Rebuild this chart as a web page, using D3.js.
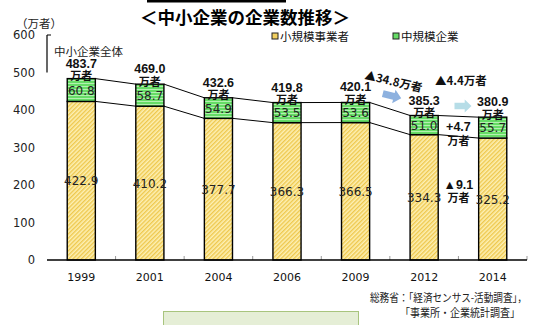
<!DOCTYPE html>
<html><head><meta charset="utf-8">
<script src="https://cdn.jsdelivr.net/npm/d3@7"></script>
<style>html,body{margin:0;padding:0;background:#fff;}svg{display:block;}</style>
</head><body>
<script>
const years = ["1999","2001","2004","2006","2009","2012","2014"];
const small = [422.9,410.2,377.7,366.3,366.5,334.3,325.2];
const medium = [60.8,58.7,54.9,53.5,53.6,51.0,55.7];
const totals = [483.7,469.0,432.6,419.8,420.1,385.3,380.9];
const totalLabels = ["483.7","469.0","432.6","419.8","420.1","385.3","380.9"];
const smallLabels = ["422.9","410.2","377.7","366.3","366.5","334.3","325.2"];
const mediumLabels = ["60.8","58.7","54.9","53.5","53.6","51.0","55.7"];
const yTicks = [0,100,200,300,400,500,600];
const seriesNames = ["小規模事業者","中規模企業"];
const title = "＜中小企業の企業数推移＞";
const unitLabel = "（万者）";
const wholeLabel = "中小企業全体";
const sourceLines = ["総務省：「経済センサス-活動調査」，","「事業所・企業統計調査」"];
const changeTotal = ["▲34.8万者","▲4.4万者"];
const changeMedium = "+4.7";
const changeSmall = "▲9.1";
const unit = "万者";

const W = 550, H = 325;
const CJK = "'Noto Sans CJK JP','Noto Sans',sans-serif";
const NUM = "'DejaVu Sans',sans-serif";
const BOLDNUM = "'Liberation Sans',Arial,sans-serif";

const svg = d3.select("body").append("svg").attr("width", W).attr("height", H);
const defs = svg.append("defs");
const pY = defs.append("pattern").attr("id","hatchY").attr("patternUnits","userSpaceOnUse")
  .attr("width",3).attr("height",3).attr("patternTransform","rotate(45)");
pY.append("rect").attr("width",3).attr("height",3).attr("fill","#fdf0b4");
pY.append("rect").attr("width",1.4).attr("height",3).attr("fill","#eec84e");
const pG = defs.append("pattern").attr("id","hatchG").attr("patternUnits","userSpaceOnUse")
  .attr("width",4).attr("height",3);
pG.append("rect").attr("width",4).attr("height",3).attr("fill","#66dc66");
pG.append("rect").attr("y",2).attr("width",4).attr("height",1).attr("fill","#b4f0b0");

const x = d3.scaleBand().domain(years).range([47,527]).paddingInner(0.59).paddingOuter(0.295);
const y = d3.scaleLinear().domain([0,600]).range([260,35]);
const bw = x.bandwidth();

// top decoration & title
svg.append("rect").attr("x",147).attr("y",0).attr("width",139).attr("height",2.5).attr("fill","#000");
svg.append("text").attr("x",245).attr("y",24).attr("text-anchor","middle")
  .attr("font-family",CJK).attr("font-weight","bold").attr("font-size",17.5).attr("fill","#000").text(title);

// unit label
svg.append("text").attr("x",16).attr("y",28).attr("font-family",CJK).attr("font-size",11.5).attr("fill","#222").text(unitLabel);

// legend
const legend = [{x:272, c:"#f2d060"},{x:393, c:"#66dc66"}];
legend.forEach((l,i)=>{
  svg.append("rect").attr("x",l.x).attr("y",33).attr("width",6).attr("height",6)
    .attr("fill",l.c).attr("stroke","#222").attr("stroke-width",1);
  svg.append("text").attr("x",l.x+8).attr("y",40.5).attr("font-family",CJK).attr("font-size",11.5)
    .attr("fill","#111").text(seriesNames[i]);
});

// axes
const yAxis = svg.append("g").attr("transform","translate(47,0)")
  .call(d3.axisLeft(y).tickValues(yTicks).tickSize(0).tickPadding(12));
yAxis.select(".domain").remove();
yAxis.selectAll("text").attr("font-family",NUM).attr("font-size",11.5).attr("fill","#222");

const xAxis = svg.append("g").attr("transform","translate(0,260)")
  .call(d3.axisBottom(x).tickSize(0).tickPadding(13));
xAxis.select(".domain").remove();
xAxis.selectAll("text").attr("font-family",NUM).attr("font-size",11).attr("fill","#111");

// y axis short line at top
svg.append("line").attr("x1",47).attr("x2",47).attr("y1",y(600)).attr("y2",y(500)).attr("stroke","#000").attr("stroke-width",1.2);
svg.append("line").attr("x1",47).attr("x2",51).attr("y1",y(600)).attr("y2",y(600)).attr("stroke","#000").attr("stroke-width",1);

// minor ticks on x axis
const step = x.step();
years.forEach((yr,i)=>{
  if(i===0) return;
  const tx = x(yr) - (step-bw)/2;
  svg.append("line").attr("x1",tx).attr("x2",tx).attr("y1",256).attr("y2",260).attr("stroke","#999").attr("stroke-width",1);
});
svg.append("line").attr("x1",527).attr("x2",527).attr("y1",256).attr("y2",260).attr("stroke","#999");

// connector lines
for(let i=0;i<years.length-1;i++){
  [small, totals].forEach(arr=>{
    svg.append("line").attr("x1",x(years[i])+bw).attr("y1",y(arr[i]))
      .attr("x2",x(years[i+1])).attr("y2",y(arr[i+1])).attr("stroke","#000").attr("stroke-width",1);
  });
}

// bars
const bars = svg.append("g");
bars.selectAll("rect.s").data(years).join("rect").attr("class","s")
  .attr("x",d=>x(d)).attr("width",bw)
  .attr("y",(d,i)=>y(small[i])).attr("height",(d,i)=>y(0)-y(small[i]))
  .attr("fill","url(#hatchY)").attr("stroke","#000").attr("stroke-width",1.4);
bars.selectAll("rect.m").data(years).join("rect").attr("class","m")
  .attr("x",d=>x(d)).attr("width",bw)
  .attr("y",(d,i)=>y(small[i]+medium[i])).attr("height",(d,i)=>y(small[i])-y(small[i]+medium[i]))
  .attr("fill","url(#hatchG)").attr("stroke","#000").attr("stroke-width",1.4);

// x axis line
svg.append("line").attr("x1",47).attr("x2",527).attr("y1",260).attr("y2",260).attr("stroke","#000").attr("stroke-width",1.4);

// segment labels
years.forEach((yr,i)=>{
  const cx = x(yr)+bw/2;
  svg.append("text").attr("x",cx).attr("y",(y(0)+y(small[i]))/2+4.5).attr("text-anchor","middle")
    .attr("font-family",NUM).attr("font-size",12).attr("fill","#222").text(smallLabels[i]);
  svg.append("text").attr("x",cx).attr("y",(y(small[i])+y(small[i]+medium[i]))/2+4.5).attr("text-anchor","middle")
    .attr("font-family",NUM).attr("font-size",12).attr("fill","#222").text(mediumLabels[i]);
  svg.append("text").attr("x",cx).attr("y",y(totals[i])-11).attr("text-anchor","middle")
    .attr("font-family",BOLDNUM).attr("font-weight","bold").attr("font-size",12.5).attr("fill","#111").text(totalLabels[i]);
  svg.append("text").attr("x",cx).attr("y",y(totals[i])+1.5).attr("text-anchor","middle")
    .attr("font-family",CJK).attr("font-weight","bold").attr("font-size",11).attr("fill","#111").text(unit);
});

// whole label
svg.append("text").attr("x",54).attr("y",56).attr("font-family",CJK).attr("font-size",11.5).attr("fill","#222").text(wholeLabel);

// arrows
function blockArrow(cx,cy,len,hgt,angle,color){
  const bodyH = hgt*0.5, headL = len*0.4;
  const pts = [[-len/2,-bodyH/2],[len/2-headL,-bodyH/2],[len/2-headL,-hgt/2],[len/2,0],
    [len/2-headL,hgt/2],[len/2-headL,bodyH/2],[-len/2,bodyH/2]];
  svg.append("polygon").attr("points",pts.map(p=>p.join(",")).join(" "))
    .attr("transform",`translate(${cx},${cy}) rotate(${angle})`).attr("fill",color);
}
blockArrow(392,96,19,14,14,"#8db1df");
blockArrow(463,106,17,13,0,"#b6dde7");

// change annotations
svg.append("text").attr("transform","translate(364,79) rotate(13)")
  .attr("font-family",CJK).attr("font-weight","bold").attr("font-size",11.5).attr("fill","#111").text(changeTotal[0]);
svg.append("text").attr("x",435).attr("y",85)
  .attr("font-family",CJK).attr("font-weight","bold").attr("font-size",11.5).attr("fill","#111").text(changeTotal[1]);
const gapX = (x(years[5])+bw + x(years[6]))/2;
svg.append("text").attr("x",gapX).attr("y",131).attr("text-anchor","middle")
  .attr("font-family",BOLDNUM).attr("font-weight","bold").attr("font-size",12.5).attr("fill","#111").text(changeMedium);
svg.append("text").attr("x",gapX).attr("y",145).attr("text-anchor","middle")
  .attr("font-family",CJK).attr("font-weight","bold").attr("font-size",11).attr("fill","#111").text(unit);
svg.append("text").attr("x",gapX).attr("y",189).attr("text-anchor","middle")
  .attr("font-family",BOLDNUM).attr("font-weight","bold").attr("font-size",12.5).attr("fill","#111").text(changeSmall);
svg.append("text").attr("x",gapX).attr("y",202).attr("text-anchor","middle")
  .attr("font-family",CJK).attr("font-weight","bold").attr("font-size",11).attr("fill","#111").text(unit);

// source
svg.append("text").attr("x",527).attr("y",302).attr("text-anchor","end").attr("textLength",157).attr("lengthAdjust","spacingAndGlyphs")
  .attr("font-family",CJK).attr("font-size",11).attr("fill","#222").text(sourceLines[0]);
svg.append("text").attr("x",520).attr("y",317).attr("text-anchor","end").attr("textLength",120).attr("lengthAdjust","spacingAndGlyphs")
  .attr("font-family",CJK).attr("font-size",11).attr("fill","#222").text(sourceLines[1]);

// bottom green box
svg.append("rect").attr("x",163.5).attr("y",311.5).attr("width",195).attr("height",20)
  .attr("fill","#e5eed6").attr("stroke","#a8c47e").attr("stroke-width",1);
</script>
</body></html>
